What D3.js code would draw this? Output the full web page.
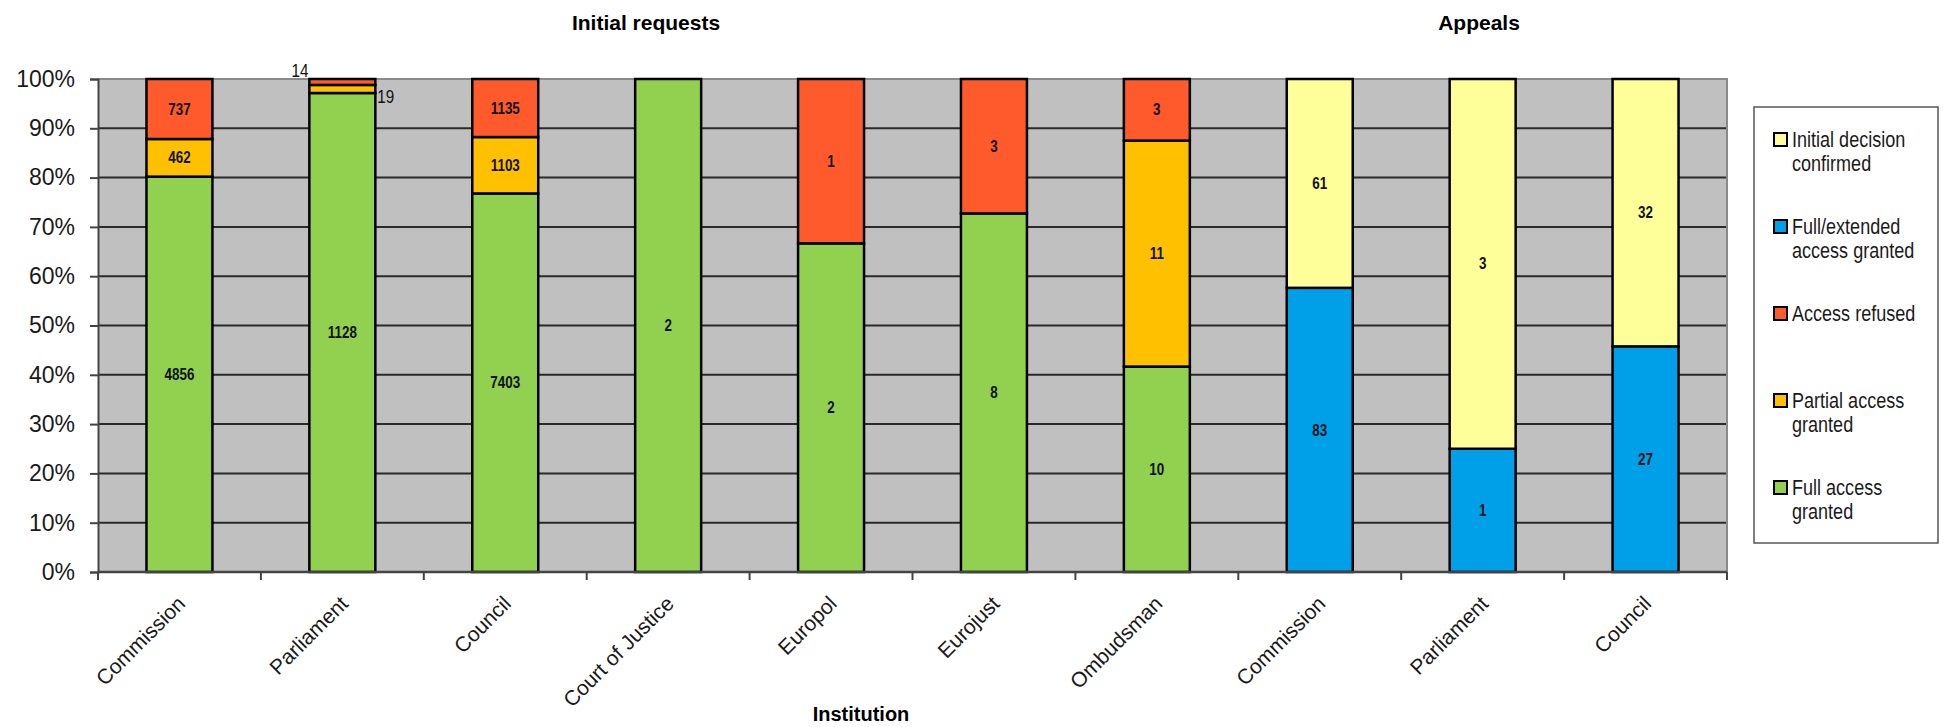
<!DOCTYPE html>
<html>
<head>
<meta charset="utf-8">
<script src="https://cdn.jsdelivr.net/npm/d3@7"></script>
<style>
  body { margin: 0; background: #fff; }
  text { font-family: "Liberation Sans", Arial, sans-serif; }
</style>
</head>
<body>
<div id="chart"></div>
<script>
// 1: DATA
const institutions = ["Commission", "Parliament", "Council", "Court of Justice", "Europol",
                      "Eurojust", "Ombudsman", "Commission", "Parliament", "Council"];
const fullAccess        = [4856, 1128, 7403, 2, 2, 8, 10, 0, 0, 0];
const fullExtended      = [0, 0, 0, 0, 0, 0, 0, 83, 1, 27];
const partialAccess     = [462, 19, 1103, 0, 0, 0, 11, 0, 0, 0];
const accessRefused     = [737, 14, 1135, 0, 1, 3, 3, 0, 0, 0];
const decisionConfirmed = [0, 0, 0, 0, 0, 0, 0, 61, 3, 32];
const yTicks = [0, 0.1, 0.2, 0.3, 0.4, 0.5, 0.6, 0.7, 0.8, 0.9, 1];

const seriesKeys = ["full", "extended", "partial", "refused", "confirmed"];
const seriesColors = {
    full: "#92D050", extended: "#00A0E9", partial: "#FFC000",
    refused: "#FF5A2C", confirmed: "#FFFF99"
};
const legendItems = [
    { key: "confirmed", lines: ["Initial decision", "confirmed"] },
    { key: "extended",  lines: ["Full/extended", "access granted"] },
    { key: "refused",   lines: ["Access refused"] },
    { key: "partial",   lines: ["Partial access", "granted"] },
    { key: "full",      lines: ["Full access", "granted"] }
];

const table = institutions.map((name, i) => ({
    idx: i, name,
    full: fullAccess[i], extended: fullExtended[i], partial: partialAccess[i],
    refused: accessRefused[i], confirmed: decisionConfirmed[i]
}));

// 2: LAYOUT
const W = 1943, H = 727;
const margin = { top: 79, left: 98, right: 216, bottom: 155 };
const width = W - margin.left - margin.right,
      height = H - margin.top - margin.bottom;

const svg = d3.select("#chart").append("svg")
    .attr("width", W).attr("height", H);
const g = svg.append("g").attr("transform", `translate(${margin.left},${margin.top})`);

// narrow text (no Arial Narrow installed) -> squeeze horizontally
function narrow(sel, px, py, sx) {
    return sel.attr("transform", `translate(${px},${py}) scale(${sx},1)`);
}

// 3: SCALES
const x = d3.scaleBand()
    .domain(table.map(d => d.idx))
    .range([0, width])
    .paddingInner(0.595)
    .paddingOuter(0.2975);
const y = d3.scaleLinear().domain([0, 1]).range([height, 0]);

const stacked = d3.stack().keys(seriesKeys).offset(d3.stackOffsetExpand)(table);

// 4: BACKGROUND + GRID
g.append("rect")
    .attr("width", width).attr("height", height)
    .attr("fill", "#C0C0C0");

g.selectAll("line.grid")
    .data(yTicks.slice(1, -1))
    .enter().append("line")
    .attr("class", "grid")
    .attr("x1", 0).attr("x2", width)
    .attr("y1", d => y(d)).attr("y2", d => y(d))
    .attr("stroke", "#2a2a2a").attr("stroke-width", 2);

// plot border top/right
g.append("path")
    .attr("d", `M0,${y(1)}H${width}V${height}`)
    .attr("fill", "none").attr("stroke", "#8a8a8a").attr("stroke-width", 2);

// 5: BARS
const layers = g.selectAll("g.layer")
    .data(stacked)
    .enter().append("g")
    .attr("class", "layer")
    .attr("fill", d => seriesColors[d.key]);

layers.selectAll("rect")
    .data(d => d.filter(s => s[1] - s[0] > 0).map(s => ({ s, key: d.key })))
    .enter().append("rect")
    .attr("x", d => x(d.s.data.idx))
    .attr("width", x.bandwidth())
    .attr("y", d => y(d.s[1]))
    .attr("height", d => y(d.s[0]) - y(d.s[1]))
    .attr("stroke", "#000").attr("stroke-width", 2.5);

// 6: VALUE LABELS
const segs = [];
stacked.forEach(layer => layer.forEach(s => {
    const v = s.data[layer.key];
    if (v > 0) segs.push({ s, key: layer.key, v });
}));

segs.forEach(d => {
    const i = d.s.data.idx;
    const small = y(d.s[0]) - y(d.s[1]) < 14;
    const t = g.append("text").text(d.v).attr("fill", "#111");
    if (!small) {
        narrow(t, x(i) + x.bandwidth() / 2, y((d.s[0] + d.s[1]) / 2), 0.84)
         .attr("dy", "0.35em")
         .attr("text-anchor", "middle")
         .style("font-size", "16px").style("font-weight", "bold");
    } else if (d.key === "refused") {
        narrow(t, x(i) - 1, y(1) - 2, 0.8)
         .attr("text-anchor", "end")
         .style("font-size", "19px");
    } else {
        narrow(t, x(i) + x.bandwidth() + 2, y(d.s[0]) + 10, 0.8)
         .attr("text-anchor", "start")
         .style("font-size", "19px");
    }
});

// 7: AXES
const yAxis = g.append("g")
    .call(d3.axisLeft(y).tickValues(yTicks).tickFormat(d3.format(".0%")).tickSize(8).tickPadding(15));
yAxis.select(".domain").attr("stroke", "#444").attr("stroke-width", 2);
yAxis.selectAll(".tick line").attr("stroke", "#444").attr("stroke-width", 2);
yAxis.selectAll(".tick text").style("font-size", "23px").attr("fill", "#1a1a1a");

const bottom = g.append("g").attr("transform", `translate(0,${height})`);
bottom.append("line")
    .attr("x1", 0).attr("x2", width)
    .attr("stroke", "#444").attr("stroke-width", 2.5);
const step = x.step();
bottom.selectAll("line.tk")
    .data(d3.range(institutions.length + 1))
    .enter().append("line")
    .attr("class", "tk")
    .attr("x1", d => d * step).attr("x2", d => d * step)
    .attr("y1", 0).attr("y2", 8)
    .attr("stroke", "#444").attr("stroke-width", 2);

bottom.selectAll("text.cat")
    .data(table)
    .enter().append("text")
    .attr("class", "cat")
    .attr("transform", d => `translate(${x(d.idx) + x.bandwidth() / 2 + 7},${33}) rotate(-45)`)
    .attr("text-anchor", "end")
    .style("font-size", "21px")
    .attr("fill", "#1a1a1a")
    .text(d => d.name);

// 8: TITLES
svg.append("text")
    .attr("x", 646).attr("y", 30)
    .attr("text-anchor", "middle")
    .style("font-size", "21px").style("font-weight", "bold")
    .text("Initial requests");

svg.append("text")
    .attr("x", 1479).attr("y", 30)
    .attr("text-anchor", "middle")
    .style("font-size", "21px").style("font-weight", "bold")
    .text("Appeals");

svg.append("text")
    .attr("x", 861).attr("y", 721)
    .attr("text-anchor", "middle")
    .style("font-size", "20px").style("font-weight", "bold")
    .text("Institution");

// 9: LEGEND
const legend = svg.append("g").attr("transform", "translate(1754,107)");
legend.append("rect")
    .attr("width", 184).attr("height", 436)
    .attr("fill", "#fff").attr("stroke", "#555").attr("stroke-width", 1.5);

const entry = legend.selectAll("g.entry")
    .data(legendItems)
    .enter().append("g")
    .attr("class", "entry")
    .attr("transform", (d, i) => `translate(20,${32 + i * 87})`);

entry.append("rect")
    .attr("x", 0).attr("y", -6)
    .attr("width", 13).attr("height", 13)
    .attr("fill", d => seriesColors[d.key])
    .attr("stroke", "#000").attr("stroke-width", 2);

const legText = entry.append("text")
    .style("font-size", "22px").attr("fill", "#1a1a1a");
legText.each(function() { narrow(d3.select(this), 18, 0, 0.82); });
legText.selectAll("tspan")
    .data(d => d.lines)
    .enter().append("tspan")
    .attr("x", 0)
    .attr("dy", (d, i) => i === 0 ? "0.35em" : "24px")
    .text(d => d);
</script>
</body>
</html>
